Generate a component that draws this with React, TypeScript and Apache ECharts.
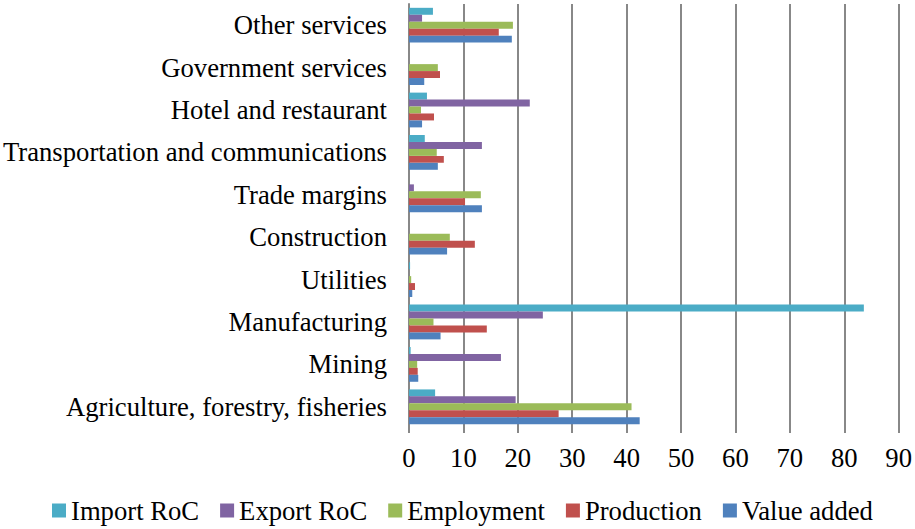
import React, { useEffect, useRef } from "react";
import * as echarts from "echarts";

const categories = [
  "Agriculture, forestry, fisheries",
  "Mining",
  "Manufacturing",
  "Utilities",
  "Construction",
  "Trade margins",
  "Transportation and communications",
  "Hotel and restaurant",
  "Government services",
  "Other services",
];

const importRoC = [4.8, 0.3, 83.6, 0.2, 0, 0, 2.9, 3.3, 0, 4.4];
const exportRoC = [19.6, 16.9, 24.6, 0, 0, 0.9, 13.4, 22.2, 0, 2.4];
const employment = [40.9, 1.5, 4.5, 0.4, 7.5, 13.2, 5.1, 2.2, 5.3, 19.1];
const production = [27.5, 1.6, 14.3, 1.1, 12.1, 10.3, 6.4, 4.6, 5.7, 16.5];
const valueAdded = [42.4, 1.7, 5.8, 0.6, 7.0, 13.4, 5.3, 2.4, 2.8, 18.9];

const seriesNames = ["Import RoC", "Export RoC", "Employment", "Production", "Value added"];
const seriesData = [importRoC, exportRoC, employment, production, valueAdded];
const colors = ["#4BACC6", "#8064A2", "#9BBB59", "#C0504D", "#4F81BD"];

const FONT = "'Liberation Serif', 'Times New Roman', serif";
const FS = 26.67;

export default function App() {
  const ref = useRef<HTMLDivElement>(null);
  useEffect(() => {
    if (!ref.current) return;
    const chart = echarts.init(ref.current, null, { renderer: "svg" });
    chart.setOption({
      animation: false,
      textStyle: { fontFamily: FONT },
      grid: { left: 409, right: 15, top: 4, bottom: 101, containLabel: false },
      legend: {
        top: 497,
        left: 52,
        padding: 0,
        itemWidth: 14,
        itemHeight: 14,
        itemGap: 21,
        icon: "rect",
        textStyle: { fontFamily: FONT, fontSize: FS, color: "#000" },
        data: seriesNames,
      },
      xAxis: {
        type: "value",
        min: 0,
        max: 90,
        interval: 10,
        axisLine: { show: false },
        axisTick: { show: true, length: 5, lineStyle: { color: "#888", width: 2 } },
        splitLine: { show: true, lineStyle: { color: "#888", width: 2 } },
        axisLabel: { fontFamily: FONT, fontSize: FS, color: "#000", margin: 16 },
      },
      yAxis: {
        type: "category",
        data: categories,
        axisLine: { show: true, lineStyle: { color: "#888", width: 2 } },
        axisTick: { show: false },
        axisLabel: { fontFamily: FONT, fontSize: FS, color: "#000", margin: 22 },
      },
      series: seriesNames.map((name, i) => ({
        name,
        type: "bar",
        data: seriesData[i],
        barGap: "0%",
        barCategoryGap: "18%",
        itemStyle: { color: colors[i] },
      })),
    });
    return () => chart.dispose();
  }, []);
  return (
    <div
      ref={ref}
      style={{ position: "absolute", left: 0, top: 0, width: 915, height: 529 }}
    />
  );
}
